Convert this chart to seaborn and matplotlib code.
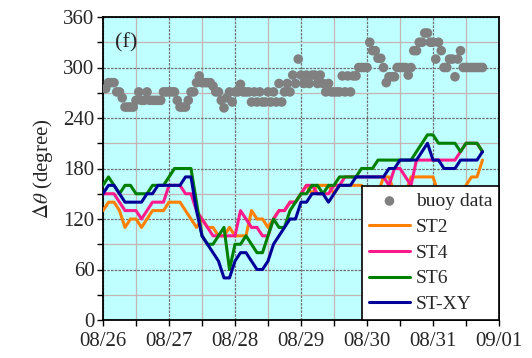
import numpy as np
import pandas as pd
import matplotlib
matplotlib.use("Agg")
import matplotlib.pyplot as plt
from matplotlib.ticker import MultipleLocator
import seaborn as sns

# Buoy-observed direction difference (degree), hourly from 08/26 01:00
buoy_deg = [275, 282, 282, 282, 271, 271, 264, 253, 253, 253, 253, 261, 271, 261,
            261, 271, 261, 261, 261, 261, 261, 271, 271, 271, 271, 271, 261, 253,
            253, 253, 261, 271, 271, 282, 290, 282, 282, 282, 282, 278, 271, 271,
            261, 252, 264, 271, 259, 271, 271, 280, 271, 271, 271, 259, 271, 259,
            271, 259, 259, 271, 259, 271, 259, 281, 259, 271, 281, 271, 291, 281,
            310, 291, 281, 291, 281, 291, 291, 281, 291, 281, 271, 281, 271, 271,
            271, 271, 290, 271, 290, 271, 290, 290, 300, 300, 300, 300, 330, 320,
            320, 311, 311, 300, 282, 289, 289, 289, 300, 300, 300, 300, 291, 300,
            320, 320, 330, 330, 341, 341, 330, 330, 310, 330, 320, 300, 300, 310,
            310, 289, 310, 320, 300, 300, 300, 300, 300, 300, 300, 300]

# Model results (degree), every 2 hours from 08/26 00:00
st2_deg = [130, 140, 140, 130, 110, 120, 120, 110, 120, 130, 130, 130, 140, 140,
           140, 130, 120, 110, 120, 110, 110, 100, 100, 110, 100, 100, 100, 130,
           120, 120, 110, 120, 130, 130, 140, 140, 150, 160, 150, 160, 160, 160,
           150, 160, 160, 160, 160, 160, 150, 140, 150, 170, 170, 150, 140, 150,
           170, 170, 170, 170, 170, 150, 140, 140, 140, 150, 160, 170, 170, 190]

st4_deg = [150, 150, 150, 140, 130, 130, 130, 120, 130, 140, 140, 140, 160, 160,
           160, 150, 150, 130, 120, 110, 100, 100, 100, 100, 100, 130, 120, 110,
           110, 100, 100, 120, 130, 130, 140, 140, 150, 160, 160, 150, 150, 150,
           160, 160, 170, 170, 170, 170, 170, 170, 170, 170, 160, 180, 180, 170,
           160, 190, 190, 190, 190, 190, 190, 190, 190, 200, 210, 210, 210, 200]

st6_deg = [160, 170, 160, 150, 160, 160, 150, 150, 150, 160, 160, 160, 170, 180,
           180, 180, 180, 140, 100, 90, 90, 100, 110, 60, 90, 90, 100, 90,
           80, 80, 100, 120, 110, 110, 130, 140, 150, 150, 160, 160, 150, 160,
           160, 170, 170, 170, 170, 180, 180, 180, 190, 190, 190, 190, 190, 190,
           190, 200, 210, 220, 220, 210, 210, 210, 210, 200, 210, 210, 210, 200]

stxy_deg = [150, 160, 160, 150, 140, 140, 140, 140, 150, 150, 160, 160, 160, 160,
            160, 170, 170, 130, 100, 90, 80, 70, 50, 50, 70, 80, 80, 70,
            60, 60, 70, 90, 100, 110, 120, 120, 140, 140, 150, 150, 150, 140,
            150, 160, 160, 160, 170, 170, 170, 170, 170, 170, 180, 180, 190, 190,
            190, 190, 200, 210, 190, 190, 180, 180, 180, 190, 190, 190, 190, 200]

day_labels = ["08/26", "08/27", "08/28", "08/29", "08/30", "08/31", "09/01"]

# time axis in days since 08/26 00:00
t_model = np.arange(len(st2_deg)) * 2 / 24
t_buoy = (np.arange(len(buoy_deg)) + 1) / 24

sns.set_theme(style="ticks")
plt.rcParams["font.family"] = ["Liberation Serif", "DejaVu Serif"]
plt.rcParams["mathtext.fontset"] = "stix"

fig = plt.figure(figsize=(5.32, 3.58), dpi=100)
ax = fig.add_axes([103 / 532, 1 - 320 / 358, 396 / 532, 303 / 358])
ax.set_facecolor("#c0ffff")

buoy_df = pd.DataFrame({"t": t_buoy, "deg": buoy_deg})
sns.scatterplot(data=buoy_df, x="t", y="deg", ax=ax, color="#808080", s=48,
                edgecolor="none", label="buoy data", zorder=3)

series = [("ST2", st2_deg, "#ff8000"), ("ST4", st4_deg, "#ff1a8c"),
          ("ST6", st6_deg, "#008000"), ("ST-XY", stxy_deg, "#000099")]
for name, vals, col in series:
    df = pd.DataFrame({"t": t_model, "deg": vals})
    sns.lineplot(data=df, x="t", y="deg", ax=ax, color=col, lw=2.2,
                 label=name, zorder=4)

ax.set_xlim(0, 6)
ax.set_ylim(0, 360)
ax.xaxis.set_minor_locator(MultipleLocator(0.5))
ax.yaxis.set_major_locator(MultipleLocator(60))
ax.yaxis.set_minor_locator(MultipleLocator(30))
ax.set_xticks(range(len(day_labels)))
ax.set_xticklabels(day_labels)

ax.set_axisbelow(True)
ax.grid(which="major", color="#6e6e6e", linestyle=(0, (2, 1)), lw=0.9)
ax.grid(which="minor", color="#c4b4b4", linestyle="-", lw=0.9)

ax.tick_params(which="both", direction="out", length=4, width=1, color="black",
               labelsize=15, pad=2)
ax.tick_params(axis="x", which="major", pad=5)
for sp in ax.spines.values():
    sp.set_color("black")
    sp.set_linewidth(1.3)

ax.set_xlabel("")
ax.set_ylabel(r"$\Delta\theta$ (degree)", fontsize=15, labelpad=6)
ax.text(0.03, 0.915, "(f)", transform=ax.transAxes, fontsize=16, va="center",
        ha="left")

leg = ax.legend(loc="lower right", bbox_to_anchor=(1, 0), borderaxespad=0,
                fontsize=14, handlelength=2.1, handletextpad=0.3,
                labelspacing=0.42, borderpad=0.35, fancybox=False,
                framealpha=1, edgecolor="black")
leg.get_frame().set_linewidth(1.2)

fig.savefig("out.png", dpi=100)
